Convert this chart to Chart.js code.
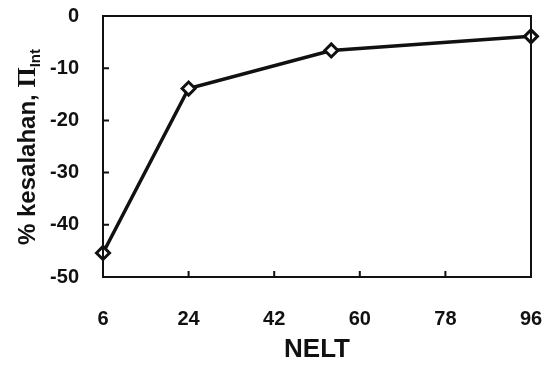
<!DOCTYPE html>
<html>
<head>
<meta charset="utf-8">
<script src="https://cdn.jsdelivr.net/npm/chart.js@4.4.1/dist/chart.umd.min.js"></script>
<style>
  html, body { margin: 0; padding: 0; background: #fff; }
  #wrap { width: 555px; height: 369px; }
</style>
</head>
<body>
<div id="wrap"><canvas id="nelt"></canvas></div>
<script>
// data
const nelt = [6, 24, 54, 96];
const errorPct = [-45.4, -13.9, -6.6, -3.9];
const xTicks = [6, 24, 42, 60, 78, 96];
const yTicks = [0, -10, -20, -30, -40, -50];

const FONT = '"Liberation Sans", Arial, sans-serif';

// box around the plot plus inward tick marks
const frame = {
  id: 'frame',
  afterDraw(chart) {
    const ctx = chart.ctx, a = chart.chartArea;
    const xs = chart.scales.x, ys = chart.scales.y;
    ctx.save();
    ctx.strokeStyle = '#111';
    ctx.lineWidth = 2;
    ctx.strokeRect(a.left, a.top, a.right - a.left, a.bottom - a.top);
    ctx.beginPath();
    xTicks.forEach(v => {
      const px = xs.getPixelForValue(v);
      ctx.moveTo(px, a.bottom);
      ctx.lineTo(px, a.bottom - 6);
    });
    yTicks.forEach(v => {
      const py = ys.getPixelForValue(v);
      ctx.moveTo(a.left, py);
      ctx.lineTo(a.left + 6, py);
    });
    ctx.stroke();
    ctx.restore();
  }
};

// y title with subscript
const yTitle = {
  id: 'yTitle',
  afterDraw(chart) {
    const ctx = chart.ctx;
    const main = '% kesalahan, ';
    const mainFont = 'bold 24px ' + FONT;
    const piFont = 'bold 26px "Liberation Serif", serif';
    const subFont = 'bold 15px ' + FONT;
    ctx.save();
    ctx.font = mainFont; const w1 = ctx.measureText(main).width;
    ctx.font = piFont; const w2 = ctx.measureText('\u03A0').width;
    ctx.font = subFont; const w3 = ctx.measureText('Int').width;
    const total = w1 + w2 + w3;
    ctx.translate(35, 147);
    ctx.rotate(-Math.PI / 2);
    ctx.fillStyle = '#111';
    ctx.textBaseline = 'alphabetic';
    let x = -total / 2;
    ctx.font = mainFont; ctx.fillText(main, x, 0); x += w1;
    ctx.font = piFont; ctx.fillText('\u03A0', x, 0); x += w2;
    ctx.font = subFont; ctx.fillText('Int', x, 5);
    ctx.restore();
  }
};

new Chart(document.getElementById('nelt'), {
  type: 'line',
  data: {
    datasets: [{
      data: nelt.map((v, i) => ({ x: v, y: errorPct[i] })),
      borderColor: '#111',
      borderWidth: 3.5,
      pointStyle: 'rectRot',
      pointRadius: 6.5,
      pointBorderWidth: 3,
      pointBackgroundColor: '#fff',
      pointBorderColor: '#111',
      tension: 0,
      clip: false
    }]
  },
  options: {
    responsive: true,
    maintainAspectRatio: false,
    animation: false,
    layout: { padding: { left: 0, right: 24, top: 16, bottom: 0 } },
    plugins: { legend: { display: false }, tooltip: { enabled: false } },
    scales: {
      x: {
        type: 'linear',
        min: 6, max: 96,
        afterBuildTicks: s => { s.ticks = xTicks.map(v => ({ value: v })); },
        afterFit: s => { s.height = 92; s.paddingLeft = 0; s.paddingRight = 0; },
        grid: { display: false },
        border: { display: false },
        ticks: { color: '#111', font: { family: FONT, size: 20, weight: 'bold' }, padding: 22, maxRotation: 0 },
        title: { display: true, text: 'NELT', color: '#111', font: { family: FONT, size: 26, weight: 'bold' }, padding: { top: 8 } }
      },
      y: {
        min: -50, max: 0,
        afterBuildTicks: s => { s.ticks = yTicks.map(v => ({ value: v })); },
        afterFit: s => { s.width = 103; s.paddingTop = 0; s.paddingBottom = 0; },
        grid: { display: false },
        border: { display: false },
        ticks: { color: '#111', font: { family: FONT, size: 20, weight: 'bold' }, padding: 16 }
      }
    }
  },
  plugins: [frame, yTitle]
});
</script>
</body>
</html>
